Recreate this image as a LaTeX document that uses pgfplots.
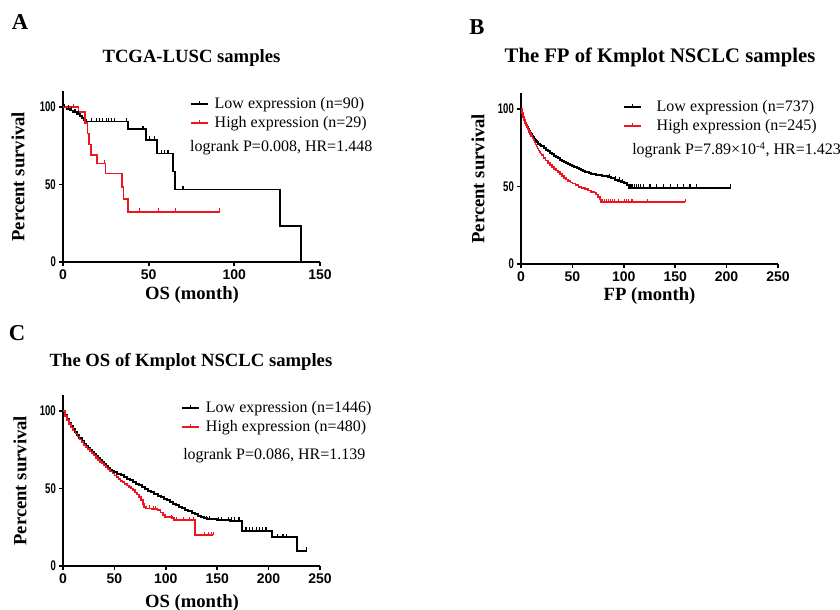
\documentclass[border=0pt]{standalone}
\usepackage{fontspec}
\setmainfont{Liberation Serif}
\setsansfont{Liberation Sans}
\usepackage{pgfplots}
\pgfplotsset{compat=1.18}
\definecolor{kmred}{HTML}{F0141E}

% censor tick: short upward stroke
\pgfdeclareplotmark{cens}{%
  \pgfpathmoveto{\pgfqpoint{0pt}{0pt}}%
  \pgfpathlineto{\pgfqpoint{0pt}{\pgfplotmarksize}}%
  \pgfusepathqstroke}

\pgfplotsset{
  km/.style={
    scale only axis,
    width=192.75pt, height=127.9pt,
    axis lines=left,
    axis line style={-, line width=1.3pt},
    xmin=0, ymin=0, ymax=110,
    ytick={0,50,100},
    tick align=outside,
    major tick length=3pt,
    tick style={line width=1.3pt, black},
    /pgf/number format/assume math mode=true,
    xticklabel style={font=\sffamily\bfseries\fontsize{10.5}{12}\selectfont, yshift=1pt},
    yticklabel style={font=\sffamily\bfseries\fontsize{10.5}{12}\selectfont, xscale=0.68},
    label style={font=\bfseries\fontsize{14}{16}\selectfont},
    title style={font=\bfseries\fontsize{14}{16}\selectfont, anchor=center},
    ylabel={Percent survival},
    clip=false,
    legend cell align=left,
    legend style={draw=none, fill=none, inner sep=0pt,
      font=\fontsize{12}{14}\selectfont,
      nodes={inner sep=1pt, text height=9pt, text depth=2.5pt},
      row sep=0.75pt,
      /tikz/every odd column/.append style={column sep=3.5pt}},
  },
  kmline/.style={const plot, line width=#1,
    legend image code/.code={
      \draw[##1] (0pt,0pt) -- (12.75pt,0pt);
      \draw[##1, line width=0.8pt] (6.4pt,0pt) -- (6.4pt,2.5pt);}},
  kmcens/.style={only marks, mark=cens, mark size=2.6pt,
    mark options={line width=0.8pt}, forget plot},
}

\begin{document}
\begin{tikzpicture}
\useasboundingbox (0,0) rectangle (630pt,-457.5pt);

\node[font=\bfseries\fontsize{17}{19}\selectfont] at (20*0.75pt,-22*0.75pt) {A};
\node[font=\bfseries\fontsize{17}{19}\selectfont] at (477*0.75pt,-27*0.75pt) {B};
\node[font=\bfseries\fontsize{17}{19}\selectfont] at (17*0.75pt,-333*0.75pt) {C};

% ---------------- A ----------------
\begin{axis}[km,
  at={(63*0.75pt,-262*0.75pt)}, anchor=south west,
  xmax=150, xtick={0,50,100,150},
  xlabel={OS (month)},
  title={TCGA-LUSC samples},
  title style={at={(axis description cs:0.5,1.152)}},
  xlabel style={at={(axis description cs:0.502,-0.195)}, anchor=center},
  ylabel style={at={(axis description cs:-0.175,0.5)}, anchor=center},
  legend style={at={(axis description cs:0.493,0.98)}, anchor=north west},
]
\addplot[kmline=1.3pt, black] coordinates {
  (0,100) (2,98.9) (4,97.8) (6,96.6) (8,95.4) (10,94.2) (11,93.0) (12,91.8)
  (13.5,90.6) (38,85.6) (48.5,78.8) (55,70.0) (64,58.3) (65.5,46.7)
  (126.7,23.3) (138.8,0)
};
\addlegendentry{Low expression (n=90)}
\addplot[kmline=1.2pt, kmred] coordinates {
  (0,100) (9,96.6) (12.8,89.7) (14.2,82.8) (15.2,75.9) (16.2,69.0)
  (19.8,63.5) (24.8,57.0) (34.5,48.5) (35.3,40.5) (38.1,32.4) (91.6,32.4)
};
\addlegendentry{High expression (n=29)}
\addplot[kmcens, black] coordinates {
  (1,100) (3,98.9) (5,97.8) (7,96.6) (9,95.4)
  (16.5,90.6) (19.4,90.6) (21.4,90.6) (23.3,90.6) (25.3,90.6) (26.3,90.6)
  (28.2,90.6) (30.2,90.6) (36.9,90.6) (46.7,85.6) (50.6,78.8) (53.5,78.8)
  (57.4,70.0) (59.3,70.0) (61.3,70.0) (69.5,46.7) (70.5,46.7)
};
\addplot[kmcens, kmred] coordinates {
  (6,100) (24,63.5) (44.5,32.4) (55.6,32.4) (65.4,32.4) (91.6,32.4)
};
\node[anchor=west, inner sep=0pt, font=\fontsize{12}{14}\selectfont]
  at (axis description cs:0.494,0.6725) {logrank P=0.008, HR=1.448};
\end{axis}

% ---------------- B ----------------
\begin{axis}[km,
  at={(521*0.75pt,-264*0.75pt)}, anchor=south west,
  xmax=250, xtick={0,50,100,150,200,250},
  xlabel={FP (month)},
  title={The FP of Kmplot NSCLC samples},
  title style={at={(axis description cs:0.541,1.164)}, font=\bfseries\fontsize{15.5}{18}\selectfont},
  xlabel style={at={(axis description cs:0.5,-0.19)}, anchor=center},
  ylabel style={at={(axis description cs:-0.167,0.5)}, anchor=center},
  legend style={at={(axis description cs:0.396,0.974)}, anchor=north west,
    /tikz/every odd column/.append style={column sep=10pt}},
]
\addplot[kmline=1.5pt, black] coordinates {
  (0,100) (1,97.5) (2,95) (3,93) (4,91.2) (5,89.6) (6,88.2) (7,87) (8,85.8)
  (9,84.7) (10,83.7) (11,82.7) (12,81.7) (13,80.8) (14,80) (15,79.2)
  (16,78.4) (17,77.7) (18,77) (19,76.4) (20,75.8) (22,74.7) (24,73.6)
  (26,72.6) (28,71.6) (30,70.7) (32,69.8) (34,69) (36,68.2) (38,67.4)
  (40,66.6) (42,65.9) (44,65.2) (46,64.5) (48,63.9) (50,63.3) (52,62.6)
  (54,62) (56,61.3) (58,60.7) (60,60.1) (62,59.6) (64,59.1) (66,58.6)
  (68,58.3) (70,58) (73,57.7) (76,57.4) (79,57) (82,56.6) (85,56) (88,55.2)
  (91,54.4) (94,53.6) (97,52.8) (100,52) (103,50.8) (105,49.3) (204,49.3)
};
\addlegendentry{Low expression (n=737)}
\addplot[kmline=1.2pt, kmred] coordinates {
  (0,100) (1,97.5) (2,95) (3,93) (4,91) (5,89.5) (6,88) (7,86.7) (8,85.3)
  (9,84) (10,82.7) (11,81.2) (12,79.8) (13,78.4) (14,77) (15,75.7)
  (16,74.4) (17,73.3) (18,72.2) (19,71.2) (20,70.2) (22,68.4) (24,66.8)
  (26,65.3) (28,63.9) (30,62.6) (32,61.3) (34,60.2) (36,59.2) (38,58)
  (40,56.8) (42,55.6) (44,54.6) (46,53.6) (48,52.7) (50,51.8) (53,50.8)
  (56,49.8) (59,49) (62,48.2) (65,47.3) (68,46.6) (71,46) (73,44.8)
  (75,43.3) (77,41.5) (78,40) (160,40)
};
\addlegendentry{High expression (n=245)}
\addplot[kmcens, black] coordinates {
  (86,56) (92,54.4) (96,53.6) (99,52.8)
  (106,49.3) (108,49.3) (110,49.3) (112,49.3) (114,49.3) (116,49.3)
  (119,49.3) (125.5,49.3) (132,49.3) (138.4,49.3) (145,49.3) (152,49.3)
  (158,49.3) (164.4,49.3) (171,49.3) (204,49.3)
};
\addplot[kmcens, kmred] coordinates {
  (79,40) (81,40) (83,40) (85,40) (87,40) (89,40) (91,40) (95,40)
  (101,40) (103,40) (105,40) (108,40) (123.5,40) (160,40)
};
\node[anchor=west, inner sep=0pt, font=\fontsize{12}{14}\selectfont]
  at (axis description cs:0.432,0.667) {logrank P=7.89×10\textsuperscript{-4}, HR=1.423};
\end{axis}

% ---------------- C ----------------
\begin{axis}[km,
  at={(63*0.75pt,-566*0.75pt)}, anchor=south west,
  xmax=250, xtick={0,50,100,150,200,250},
  xlabel={OS (month)},
  title={The OS of Kmplot NSCLC samples},
  title style={at={(axis description cs:0.498,1.152)}},
  xlabel style={at={(axis description cs:0.502,-0.218)}, anchor=center},
  ylabel style={at={(axis description cs:-0.167,0.5)}, anchor=center},
  legend style={at={(axis description cs:0.458,0.98)}, anchor=north west},
]
\addplot[kmline=1.5pt, black] coordinates {
  (0,100) (2,97.3) (4,94.8) (6,92.5) (8,90.4) (10,88.5) (12,86.5) (14,84.5)
  (16,82.6) (18,80.8) (20,79) (22,77.5) (24,76.1) (26,74.7) (28,73.4)
  (30,72) (32,70.7) (34,69.4) (36,68.2) (38,66.9) (40,65.6) (42,64.4)
  (44,63.2) (46,62.2) (48,61.3) (50,60.5) (53,59.5) (56,58.5) (59,57.4)
  (62,56.4) (65,55.3) (68,54.2) (71,53.1) (74,52) (77,50.8) (80,49.7)
  (83,48.6) (86,47.5) (89,46.4) (92,45.3) (95,44.3) (98,43.3) (101,42.3)
  (104,41.3) (107,40.3) (110,39.3) (113,38.3) (116,37.4) (119,36.4)
  (122,35.4) (125,34.4) (128,33.4) (131,32.5) (134,31.6) (137,30.8)
  (140,30) (150,29.6) (162,29.2) (174,22.8) (203,18.5) (227.5,9.9) (237,9.9)
};
\addlegendentry{Low expression (n=1446)}
\addplot[kmline=1.2pt, kmred] coordinates {
  (0,100) (2,96.8) (4,94) (6,91.5) (8,89.3) (10,87.4) (12,85.5) (14,83.6)
  (16,81.7) (18,79.9) (20,78.2) (22,76.7) (24,75.3) (26,73.9) (28,72.6)
  (30,71.2) (32,69.8) (34,68.5) (36,67.2) (38,66) (40,64.8) (42,63.6)
  (44,62.3) (46,61) (48,59.7) (50,58.5) (52,57.4) (54,56.2) (56,55)
  (58,54) (60,53) (62,52) (64,51) (66,50) (68,49) (70,47.5) (72,46)
  (74,44.5) (76,42.5) (78,40) (79,38) (81,37) (86,36.6) (92,36) (95,34.5)
  (97,33) (99,31.7) (106,30.8) (108,29.6) (128.4,20) (146,20)
};
\addlegendentry{High expression (n=480)}
\addplot[kmcens, black] coordinates {
  (140,30) (142.5,30) (151,29.6) (154,29.6) (160.7,29.6) (164,29.2)
  (167,29.2) (170.4,29.2) (172,29.2)
  (178,22.8) (181.5,22.8) (184.7,22.8) (188,22.8) (191,22.8) (194.3,22.8)
  (197.5,22.8) (209,18.5) (214,18.5) (217,18.5) (237,9.9)
};
\addplot[kmcens, kmred] coordinates {
  (84,37) (88,36.6) (90,36.6) (105.7,30.8) (110.6,29.6) (117,29.6)
  (123.5,29.6) (126.8,29.6) (138,20) (141.4,20) (144.6,20) (146,20)
};
\node[anchor=west, inner sep=0pt, font=\fontsize{12}{14}\selectfont]
  at (axis description cs:0.467,0.649) {logrank P=0.086, HR=1.139};
\end{axis}
\end{tikzpicture}
\end{document}
